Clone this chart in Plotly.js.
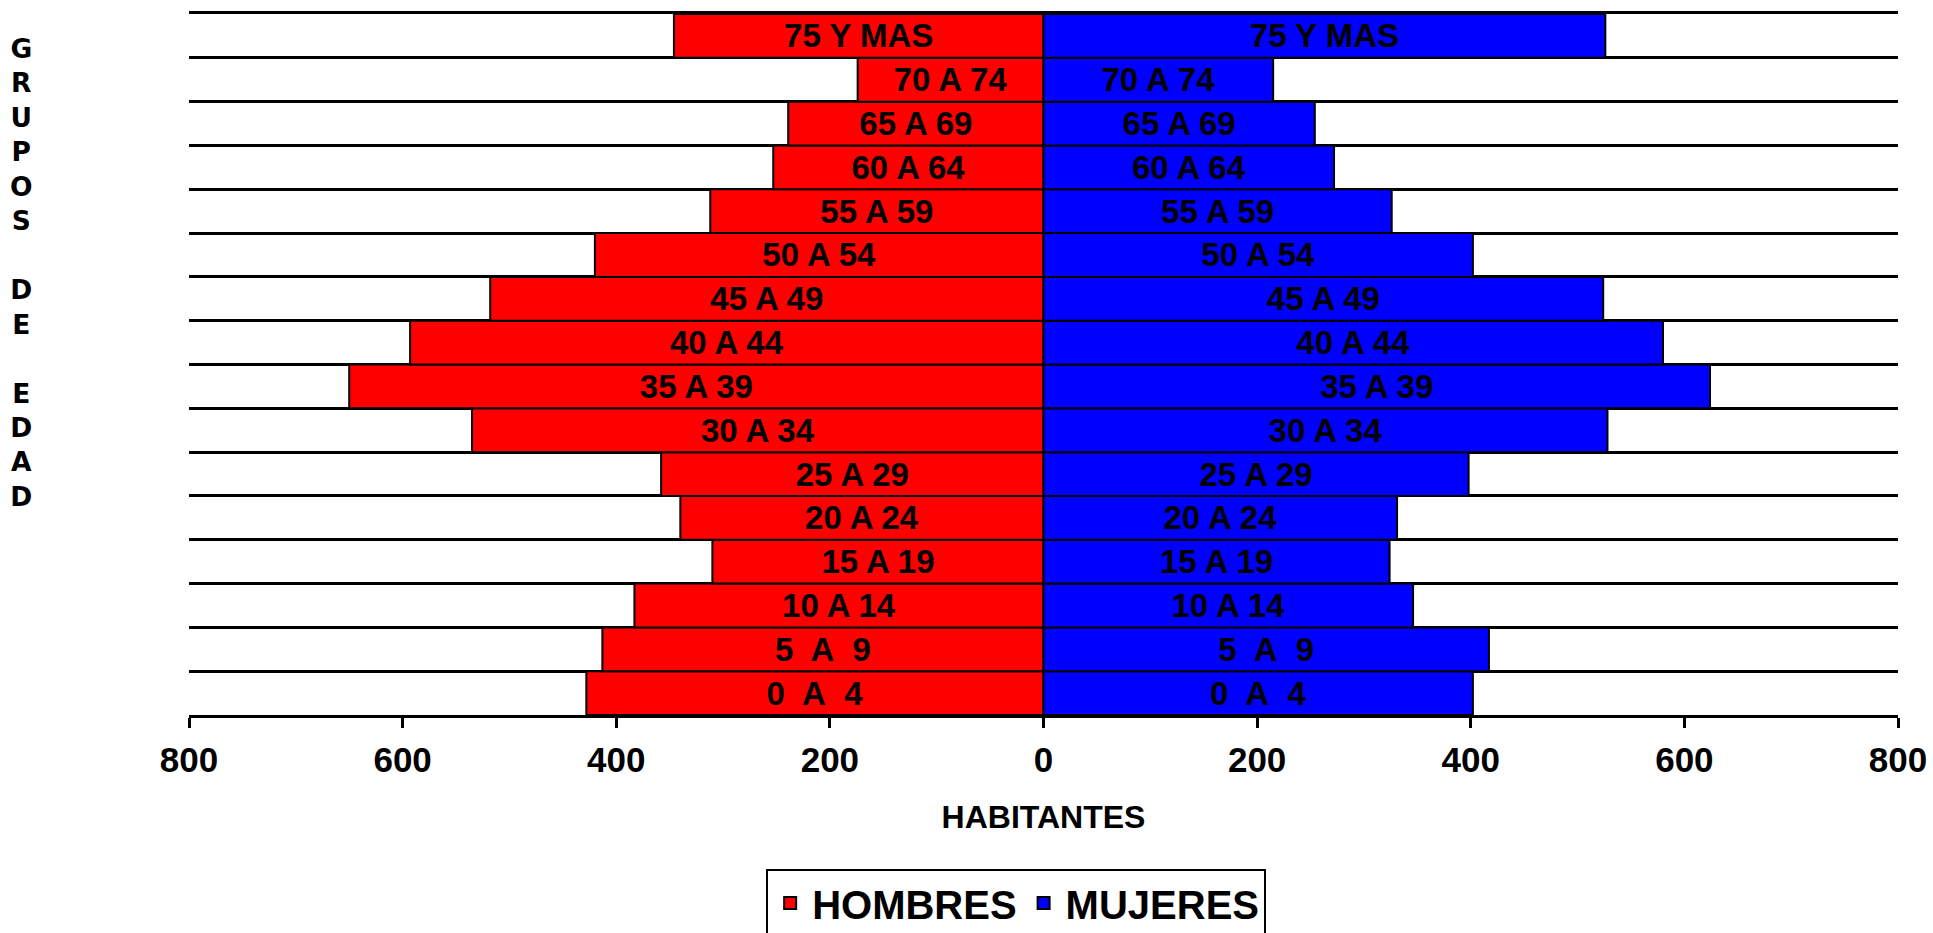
<!DOCTYPE html>
<html>
<head>
<meta charset="utf-8">
<script src="https://cdn.plot.ly/plotly-3.0.1.min.js"></script>
<style>
  html, body { margin: 0; padding: 0; background: #ffffff; }
  #chart { width: 1933px; height: 933px; }
</style>
</head>
<body>
<div id="chart"></div>
<script>
// Age groups, bottom to top
const grupos = ["0\u00a0 A\u00a0 4", "5\u00a0 A\u00a0 9", "10 A 14", "15 A 19", "20 A 24", "25 A 29",
                "30 A 34", "35 A 39", "40 A 44", "45 A 49", "50 A 54", "55 A 59",
                "60 A 64", "65 A 69", "70 A 74", "75 Y MAS"];
const hombres = [428, 413, 383, 310, 340, 358, 535, 650, 593, 518, 420, 312, 253, 239, 174, 346];
const mujeres = [402, 417, 346, 324, 331, 398, 528, 624, 580, 524, 402, 326, 272, 254, 215, 526];
const tickValues = [-800, -600, -400, -200, 0, 200, 400, 600, 800];
const tickLabels = ["800", "600", "400", "200", "0", "200", "400", "600", "800"];

const FONT = "Liberation Sans, Arial, sans-serif";

const textStyle = { family: FONT, size: 33, color: "#000000", weight: "bold" };

const traces = [
  {
    type: "bar", orientation: "h", name: "HOMBRES",
    y: grupos, x: hombres.map(v => -v),
    text: grupos, textposition: "inside", insidetextanchor: "middle",
    constraintext: "none", textfont: textStyle, insidetextfont: textStyle,
    marker: { color: "#FF0000", line: { color: "#000000", width: 2 } },
    hoverinfo: "skip"
  },
  {
    type: "bar", orientation: "h", name: "MUJERES",
    y: grupos, x: mujeres,
    text: grupos, textposition: "inside", insidetextanchor: "middle",
    constraintext: "none", textfont: textStyle, insidetextfont: textStyle,
    marker: { color: "#0000FF", line: { color: "#000000", width: 2 } },
    hoverinfo: "skip"
  }
];

const layout = {
  width: 1933, height: 933,
  paper_bgcolor: "#ffffff", plot_bgcolor: "#ffffff",
  margin: { l: 189, r: 35, t: 14, b: 218, autoexpand: false },
  barmode: "relative", bargap: 0,
  font: { family: FONT, color: "#000000" },
  xaxis: {
    range: [-800, 800], automargin: false,
    tickmode: "array", tickvals: tickValues, ticktext: tickLabels,
    ticks: "outside", ticklen: 10, tickwidth: 3, tickcolor: "#000000",
    tickfont: { family: FONT, size: 35, color: "#000000", weight: "bold" },
    ticklabelstandoff: 2,
    showline: true, linecolor: "#000000", linewidth: 3, mirror: true,
    showgrid: false, zeroline: false,
    title: { text: "HABITANTES", font: { family: FONT, size: 32, color: "#000000", weight: "bold" }, standoff: 28 }
  },
  xaxis2: {
    overlaying: "x", matches: "x", anchor: "y", side: "bottom",
    range: [-800, 800], automargin: false,
    tickmode: "array", tickvals: tickValues,
    ticks: "inside", ticklen: 10, tickwidth: 3, tickcolor: "#000000",
    showticklabels: false, showline: false, showgrid: false, zeroline: false
  },
  yaxis: {
    type: "category", automargin: false,
    tickson: "boundaries", ticks: "", showticklabels: false,
    showgrid: true, gridcolor: "#000000", gridwidth: 3,
    showline: false, zeroline: false
  },
  showlegend: true,
  legend: {
    orientation: "h", x: 0.484, xanchor: "center", y: -0.219, yanchor: "top",
    bgcolor: "#ffffff", bordercolor: "#000000", borderwidth: 2,
    font: { family: FONT, size: 40, color: "#000000", weight: "bold" },
    traceorder: "normal", itemwidth: 34
  },
  annotations: [
    {
      text: "G<br>R<br>U<br>P<br>O<br>S<br> <br>D<br>E<br> <br>E<br>D<br>A<br>D",
      xref: "paper", yref: "paper", x: -0.098, y: 0.631,
      xanchor: "center", yanchor: "middle", showarrow: false,
      font: { family: "DejaVu Sans, Arial Black, sans-serif", size: 26.5, color: "#000000", weight: "bold" }
    }
  ]
};

Plotly.newPlot("chart", traces, layout, { staticPlot: true, displayModeBar: false });
</script>
</body>
</html>
